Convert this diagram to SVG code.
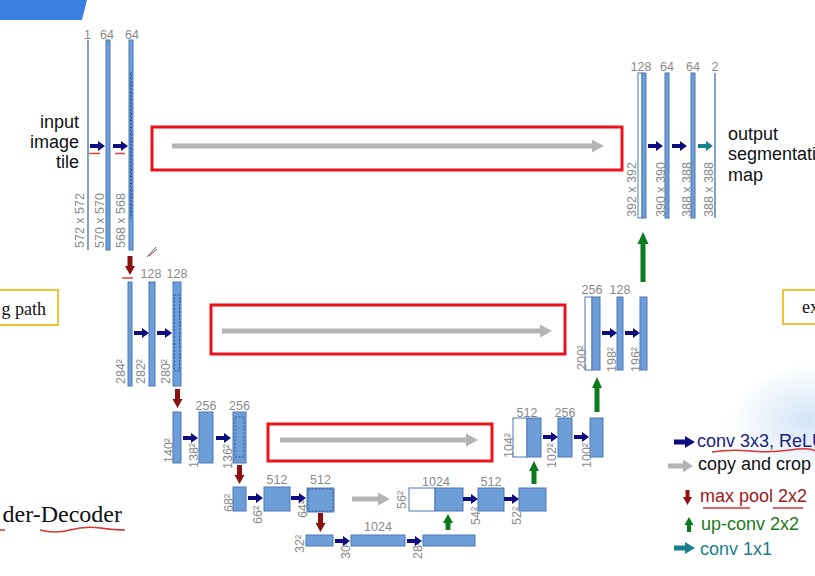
<svg xmlns="http://www.w3.org/2000/svg" xmlns:xlink="http://www.w3.org/1999/xlink" width="815" height="576" viewBox="0 0 815 576">
<style>
.bar{fill:#6e9ed8;stroke:#4a78b8;stroke-width:1}
.wbar{fill:#ffffff;stroke:#4a78b8;stroke-width:1}
.thin{stroke:#5a80b8;stroke-width:1.5;fill:none}
.crop{fill:none;stroke:#2f5a9a;stroke-width:1;stroke-dasharray:2 1.5}
.num{font-family:"Liberation Sans",Arial,sans-serif;font-size:12.5px;fill:#8a8a8a;text-anchor:middle}
.dim{font-family:"Liberation Sans",Arial,sans-serif;font-size:12.5px;fill:#8a8a8a}
.lbl{font-family:"Liberation Sans",Arial,sans-serif;font-size:18px;fill:#111}
.serif{font-family:"Liberation Serif","Times New Roman",serif;fill:#111}
.redbox{fill:none;stroke:#e8141b;stroke-width:3}
.grey{fill:#b4b4b4}
.down{fill:#8b1010}
.up{fill:#0b7a1c}
.ul{fill:none;stroke:#e03030;stroke-width:1.5}
</style>
<defs>
<path id="ar" d="M0,-2 H8 V-5 L15,0 L8,5 V2 H0 Z" fill="#0d0d80"/>
<path id="art" d="M0,-2 H8 V-5 L15,0 L8,5 V2 H0 Z" fill="#17808a"/>
<path id="dn" d="M-2.5,0 V10 H-5 L0,19 L5,10 H2.5 V0 Z" class="down"/>
<radialGradient id="glow" cx="0.5" cy="0.5" r="0.5">
<stop offset="0" stop-color="#cfe2f6" stop-opacity="0.9"/>
<stop offset="1" stop-color="#cfe2f6" stop-opacity="0"/>
</radialGradient>
</defs>
<rect width="815" height="576" fill="#ffffff"/>
<ellipse cx="805" cy="420" rx="75" ry="55" fill="url(#glow)"/>
<polygon points="0,0 87,0 82,20 0,20" fill="#3a80e0"/>

<!-- side annotations -->
<g id="contracting-label">
<rect x="-5" y="290" width="63" height="35" fill="#fff" stroke="#f2c235" stroke-width="2"/>
<text class="serif" x="46" y="315" font-size="18" text-anchor="end">g path</text>
</g>
<g id="expansive-label">
<rect x="783" y="290" width="40" height="34" fill="#fff" stroke="#f2c235" stroke-width="2"/>
<text class="serif" x="802" y="313" font-size="18">ex</text>
</g>
<g id="title-fragment">
<text class="serif" x="122" y="522" font-size="24" text-anchor="end">der-Decoder</text>
<path class="ul" d="M40,530 Q55,534 70,530 T100,528 T125,530"/>
<path class="ul" d="M0,530 H5"/>
</g>
<g id="pen"><path d="M147,257 L156,247 M149,256 L157,249" stroke="#8a5050" stroke-width="1" fill="none"/></g>

<!-- input / output text -->
<g id="input-text">
<text class="lbl" x="79" y="128" text-anchor="end">input</text>
<text class="lbl" x="79" y="148" text-anchor="end">image</text>
<text class="lbl" x="79" y="168" text-anchor="end">tile</text>
</g>
<g id="output-text">
<text class="lbl" x="728" y="140">output</text>
<text class="lbl" x="728" y="160">segmentation</text>
<text class="lbl" x="728" y="181">map</text>
</g>

<!-- Level 1 -->
<g id="in1"><line class="thin" x1="88" y1="40" x2="88" y2="250"/><text class="num" x="87.5" y="39">1</text><text class="dim" transform="translate(84,248) rotate(-90)">572 x 572</text></g>
<g id="c1a"><rect class="bar" x="106" y="40" width="4" height="210"/><text class="num" x="107" y="39">64</text><text class="dim" transform="translate(104,248) rotate(-90)">570 x 570</text></g>
<g id="c1b"><rect class="bar" x="129" y="40" width="4" height="210"/><rect class="crop" x="130.5" y="72" width="1" height="146"/><text class="num" x="132" y="39">64</text><text class="dim" transform="translate(125,248) rotate(-90)">568 x 568</text></g>

<!-- Level 2 -->
<g id="p2"><rect class="bar" x="128" y="282" width="4" height="104"/><text class="dim" transform="translate(125,384) rotate(-90)">284²</text></g>
<g id="c2a"><rect class="bar" x="149" y="282" width="6" height="104"/><text class="num" x="151" y="278">128</text><text class="dim" transform="translate(145,384) rotate(-90)">282²</text></g>
<g id="c2b"><rect class="bar" x="173" y="282" width="8" height="104"/><rect class="crop" x="174.5" y="295" width="5" height="76"/><text class="num" x="177" y="278">128</text><text class="dim" transform="translate(170,384) rotate(-90)">280²</text></g>

<!-- Level 3 -->
<g id="p3"><rect class="bar" x="173" y="412" width="8" height="51"/><text class="dim" transform="translate(173,463) rotate(-90)">140²</text></g>
<g id="c3a"><rect class="bar" x="199" y="412" width="14" height="51"/><text class="num" x="206" y="410">256</text><text class="dim" transform="translate(198,468) rotate(-90)">138²</text></g>
<g id="c3b"><rect class="bar" x="233" y="412" width="13" height="51"/><rect class="crop" x="235" y="417" width="9" height="40"/><text class="num" x="239.5" y="410">256</text><text class="dim" transform="translate(232,469) rotate(-90)">136²</text></g>

<!-- Level 4 -->
<g id="p4"><rect class="bar" x="233" y="487" width="13" height="24"/><text class="dim" transform="translate(233,512) rotate(-90)">68²</text></g>
<g id="c4a"><rect class="bar" x="264" y="487" width="26" height="24"/><text class="num" x="277" y="484">512</text><text class="dim" transform="translate(262,524) rotate(-90)">66²</text></g>
<g id="c4b"><rect class="bar" x="307" y="488" width="27" height="24"/><rect class="crop" x="308" y="489" width="25" height="22"/><text class="num" x="320.5" y="484">512</text><text class="dim" transform="translate(307,518) rotate(-90)">64²</text></g>

<!-- Level 5 -->
<g id="p5"><rect class="bar" x="306" y="535" width="27" height="11"/><text class="dim" transform="translate(304,553) rotate(-90)">32²</text></g>
<g id="c5a"><rect class="bar" x="351" y="535" width="54" height="11"/><text class="num" x="378" y="531">1024</text><text class="dim" transform="translate(350,559) rotate(-90)">30²</text></g>
<g id="c5b"><rect class="bar" x="423" y="535" width="52" height="11"/><text class="dim" transform="translate(422,559) rotate(-90)">28²</text></g>

<!-- Up level 4 -->
<g id="u4"><rect class="wbar" x="409" y="488" width="26" height="23"/><rect class="bar" x="435" y="488" width="28" height="23"/><text class="num" x="436" y="486">1024</text><text class="dim" transform="translate(406,509) rotate(-90)">56²</text></g>
<g id="e4a"><rect class="bar" x="478" y="488" width="26" height="23"/><text class="num" x="491" y="486">512</text><text class="dim" transform="translate(480,525) rotate(-90)">54²</text></g>
<g id="e4b"><rect class="bar" x="519" y="488" width="27" height="23"/><text class="dim" transform="translate(521,525) rotate(-90)">52²</text></g>

<!-- Up level 3 -->
<g id="u3"><rect class="wbar" x="513" y="418" width="14" height="39"/><rect class="bar" x="527" y="418" width="14" height="39"/><text class="num" x="527" y="417">512</text><text class="dim" transform="translate(513,458) rotate(-90)">104²</text></g>
<g id="e3a"><rect class="bar" x="558" y="418" width="14" height="39"/><text class="num" x="565" y="417">256</text><text class="dim" transform="translate(556,468) rotate(-90)">102²</text></g>
<g id="e3b"><rect class="bar" x="590" y="418" width="13" height="39"/><text class="dim" transform="translate(591,468) rotate(-90)">100²</text></g>

<!-- Up level 2 -->
<g id="u2"><rect class="wbar" x="585" y="297" width="7" height="73"/><rect class="bar" x="592" y="297" width="8" height="73"/><text class="num" x="592" y="294">256</text><text class="dim" transform="translate(586,370) rotate(-90)">200²</text></g>
<g id="e2a"><rect class="bar" x="617" y="297" width="6" height="73"/><text class="num" x="620" y="294">128</text><text class="dim" transform="translate(616,372) rotate(-90)">198²</text></g>
<g id="e2b"><rect class="bar" x="640" y="297" width="7" height="73"/><text class="dim" transform="translate(640,372) rotate(-90)">196²</text></g>

<!-- Up level 1 -->
<g id="u1"><rect class="wbar" x="638" y="73" width="4" height="145"/><rect class="bar" x="642" y="73" width="4" height="145"/><text class="num" x="641" y="71">128</text><text class="dim" transform="translate(636,217) rotate(-90)">392 x 392</text></g>
<g id="e1a"><rect class="bar" x="665" y="73" width="4" height="145"/><text class="num" x="667" y="71">64</text><text class="dim" transform="translate(665,217) rotate(-90)">390 x 390</text></g>
<g id="e1b"><rect class="bar" x="691" y="73" width="4" height="145"/><text class="num" x="693" y="71">64</text><text class="dim" transform="translate(691,217) rotate(-90)">388 x 388</text></g>
<g id="out"><line class="thin" x1="715" y1="73" x2="715" y2="218"/><text class="num" x="715" y="71">2</text><text class="dim" transform="translate(713,217) rotate(-90)">388 x 388</text></g>

<!-- Red highlight boxes -->
<g id="highlights">
<rect class="redbox" x="152" y="127" width="470" height="43"/>
<rect class="redbox" x="211" y="305" width="354" height="49"/>
<rect class="redbox" x="268" y="424" width="224" height="37"/>
</g>

<!-- Connectors -->
<g id="connectors">
<use xlink:href="#ar" x="90" y="146"/><use xlink:href="#ar" x="113" y="146"/>
<path d="M89,153.5 H100 M115,153.5 H125 M122,278 H133" stroke="#e04040" stroke-width="1.5"/>
<use xlink:href="#ar" x="134" y="333"/><use xlink:href="#ar" x="157" y="333"/>
<use xlink:href="#ar" x="183" y="438"/><use xlink:href="#ar" x="216" y="438"/>
<use xlink:href="#ar" x="248" y="498"/><use xlink:href="#ar" x="291" y="498"/>
<use xlink:href="#ar" x="335" y="541"/><use xlink:href="#ar" x="407" y="541"/>
<use xlink:href="#ar" x="463" y="499"/><use xlink:href="#ar" x="504" y="499"/>
<use xlink:href="#ar" x="543" y="437"/><use xlink:href="#ar" x="574" y="437"/>
<use xlink:href="#ar" x="602" y="333"/><use xlink:href="#ar" x="625" y="333"/>
<use xlink:href="#ar" x="648" y="146"/><use xlink:href="#ar" x="672" y="146"/>
<use xlink:href="#art" x="698" y="146"/>
<use xlink:href="#dn" x="130" y="256"/>
<use xlink:href="#dn" x="177.5" y="389"/>
<use xlink:href="#dn" x="239.5" y="465"/>
<use xlink:href="#dn" x="320.5" y="513"/>
<path class="up" d="M445.5,530 V523 H443 L448,514 L453,523 H450.5 V530 Z"/>
<path class="up" d="M531.5,484 V471 H529 L534,461 L539,471 H536.5 V484 Z"/>
<path class="up" d="M594.5,412 V388 H592 L597,377 L602,388 H599.5 V412 Z"/>
<path class="up" d="M640.5,282 V244 H637.5 L643,232 L648.5,244 H645.5 V282 Z"/>
<path class="grey" d="M172,143.5 H592 V139.5 L604,146 L592,152.5 V148.5 H172 Z"/>
<path class="grey" d="M222,328.5 H540 V324.5 L552,331 L540,337.5 V333.5 H222 Z"/>
<path class="grey" d="M280,437.5 H466 V433.5 L478,440 L466,446.5 V442.5 H280 Z"/>
<path class="grey" d="M352,496.5 H378 V492.5 L390,499 L378,505.5 V501.5 H352 Z"/>
</g>

<!-- Legend -->
<g id="legend">
<path d="M674,439.5 H685 V436 L695,442 L685,448 V444.5 H674 Z" fill="#0d0d80"/>
<text class="lbl" x="697" y="447" fill="#1a237e" style="fill:#1a237e">conv 3x3, ReLU</text>
<path class="ul" d="M712,452 Q730,449 750,451 T790,450 T815,451"/>
<path class="grey" d="M668,463.5 H683 V459.5 L693,466 L683,472.5 V468.5 H668 Z"/>
<text class="lbl" x="698" y="470">copy and crop</text>
<path class="down" d="M685.5,490 V497 H683 L687.5,505 L692,497 H689.5 V490 Z"/>
<text class="lbl" x="700" y="502" style="fill:#a01818">max pool 2x2</text>
<path class="ul" d="M703,508 H750 M773,508 H803"/>
<path class="up" d="M687,532 V525 H684.5 L689,517 L693.5,525 H691 V532 Z"/>
<text class="lbl" x="701" y="530" style="fill:#1a7a1a">up-conv 2x2</text>
<path d="M674,545.5 H685 V542 L695,548 L685,554 V550.5 H674 Z" fill="#17808a"/>
<text class="lbl" x="700" y="555" style="fill:#1a7f87">conv 1x1</text>
</g>
</svg>
